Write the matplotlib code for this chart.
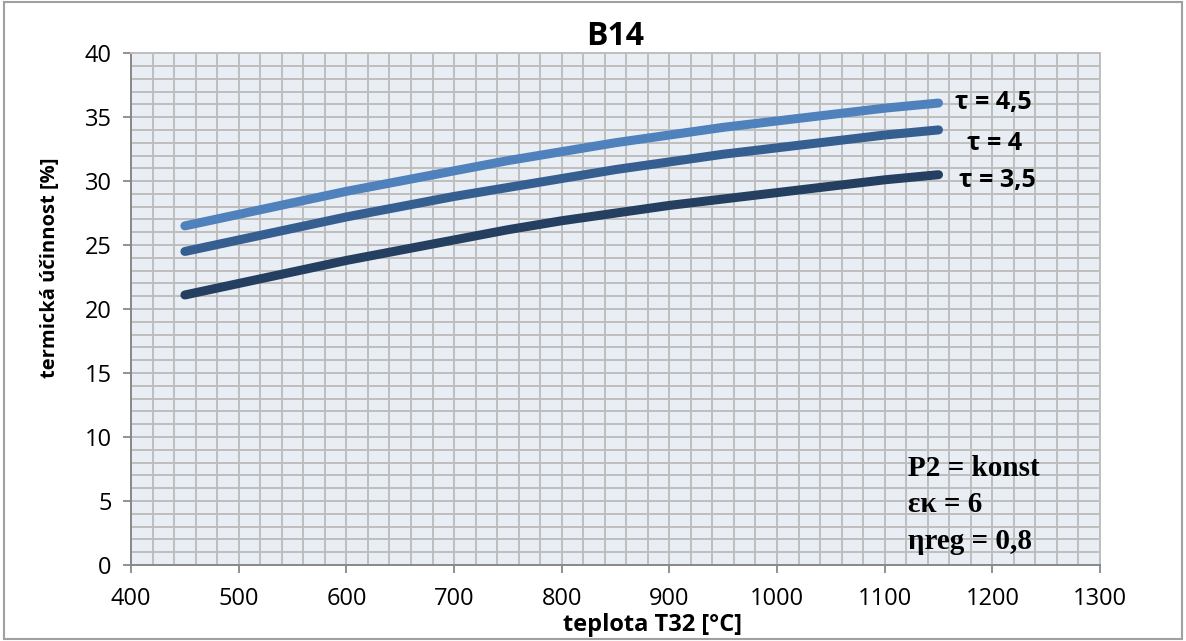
import matplotlib.pyplot as plt
from matplotlib.patches import Rectangle
from matplotlib.ticker import MultipleLocator

plt.rcParams["font.family"] = ["Open Sans", "DejaVu Sans"]

# teplota T32 [°C]
teplota = [450, 500, 550, 600, 650, 700, 750, 800, 850, 900, 950, 1000, 1050, 1100, 1150]

# termická účinnost [%] pro jednotlivá tau
ucinnost_45 = [26.5, 27.4, 28.3, 29.2, 30.0, 30.8, 31.6, 32.3, 33.0, 33.6, 34.2, 34.7, 35.2, 35.7, 36.1]
ucinnost_40 = [24.5, 25.4, 26.3, 27.2, 28.0, 28.8, 29.5, 30.2, 30.9, 31.5, 32.1, 32.6, 33.1, 33.6, 34.0]
ucinnost_35 = [21.1, 22.0, 22.9, 23.8, 24.6, 25.4, 26.2, 26.9, 27.5, 28.1, 28.6, 29.1, 29.6, 30.1, 30.5]

labels = ["τ = 4,5", "τ = 4", "τ = 3,5"]
colors = ["#4F81BD", "#365F91", "#243F60"]

fig = plt.figure(figsize=(11.86, 6.41), dpi=100)
ax = fig.add_axes([0.1105, 0.1186, 0.817, 0.7985])
ax.set_facecolor("#E9EDF4")

# ramecek okolo celeho obrazku
fig.patches.append(Rectangle((0.003, 0.003), 0.994, 0.994, transform=fig.transFigure,
                             fill=False, edgecolor="#A0A0A0", linewidth=1.5))

for y, c in zip([ucinnost_45, ucinnost_40, ucinnost_35], colors):
    ax.plot(teplota, y, color=c, linewidth=6.5, solid_capstyle="round", zorder=3)

ax.set_xlim(400, 1300)
ax.set_ylim(0, 40)
ax.xaxis.set_major_locator(MultipleLocator(100))
ax.xaxis.set_minor_locator(MultipleLocator(20))
ax.yaxis.set_major_locator(MultipleLocator(5))
ax.yaxis.set_minor_locator(MultipleLocator(1))
ax.grid(True, which="both", color="#BEBEBE", linewidth=1.4, zorder=0)
ax.set_axisbelow(True)
ax.tick_params(which="minor", length=0)
ax.tick_params(which="major", length=6, width=1.3, color="#888888", direction="out",
               labelsize=17)
ax.tick_params(axis="x", pad=10)
ax.tick_params(axis="y", pad=8)
for s in ["left", "bottom"]:
    ax.spines[s].set_color("#888888")
    ax.spines[s].set_linewidth(1.4)
for s in ["top", "right"]:
    ax.spines[s].set_color("#BEBEBE")
    ax.spines[s].set_linewidth(1.4)

ax.set_title("B14", fontsize=23, fontweight="bold", pad=3)
ax.set_xlabel("teplota T32 [°C]", fontsize=17, fontweight="bold")
ax.set_ylabel("termická účinnost [%]", fontsize=14.5, fontweight="bold")
ax.xaxis.set_label_coords(0.538, -0.094)
ax.yaxis.set_label_coords(-0.073, 0.58)

# popisky krivek
for lab, xx, yy in zip(labels, [1200.5, 1202.5, 1204.3], [36.15, 32.95, 30.05]):
    ax.text(xx, yy, lab, fontsize=18, fontweight="bold",
            ha="center", va="center", zorder=4)

# parametry
for txt, yy in zip(["P2 = konst", "εκ = 6", "ηreg = 0,8"], [7.55, 4.7, 1.8]):
    ax.text(1122, yy, txt, fontsize=21, fontweight="bold", fontfamily="Liberation Serif",
            ha="left", va="center", zorder=4)

fig.savefig("out.png", dpi=100)
